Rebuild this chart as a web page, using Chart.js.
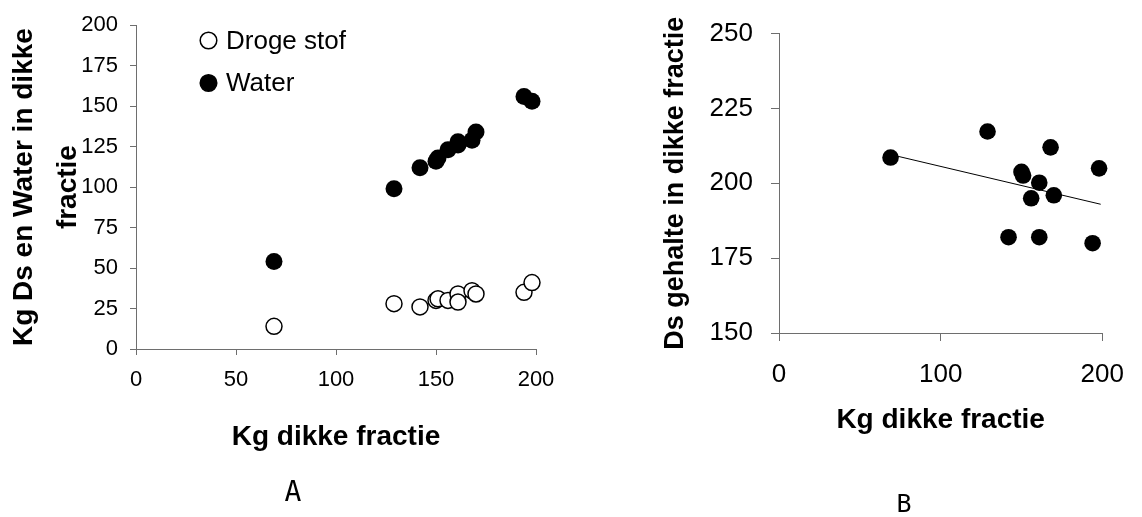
<!DOCTYPE html>
<html>
<head>
<meta charset="utf-8">
<script src="https://cdn.jsdelivr.net/npm/chart.js@4"></script>
<style>
    body { margin: 0; width: 1142px; height: 517px; background: #fff; position: relative; overflow: hidden; }
    canvas { position: absolute; top: 0; }
    .panel { position: absolute; font-family: "DejaVu Sans Mono", monospace; color: #000; transform: translate(-50%, -50%); }
</style>
</head>
<body>
<canvas id="chartA" width="580" height="517" style="left:0"></canvas>
<canvas id="chartB" width="562" height="517" style="left:580px"></canvas>
<div class="panel" style="left:293px; top:491px; font-size:28px;">A</div>
<div class="panel" style="left:904px; top:503px; font-size:25px;">B</div>

<script>
// kg dikke fractie (same batches in both panels)
const dikkeFractie = [69, 129, 142, 150, 151, 156, 161, 161, 168, 170, 194, 198];
const drogeStof = [14, 28, 26, 30, 31, 30, 34, 29, 36, 34, 35, 41];
const water = [54, 99, 112, 116, 118, 123, 128, 126, 129, 134, 156, 153];
const dsGehalte = [208.6, 217.3, 182, 203.8, 202.6, 195, 200.2, 182, 212, 196, 180, 205];
const trendX = [69, 199];
const trendY = [209.6, 193];

const ticksA_x = [0, 50, 100, 150, 200];
const ticksA_y = [0, 25, 50, 75, 100, 125, 150, 175, 200];
const ticksB_x = [0, 100, 200];
const ticksB_y = [150, 175, 200, 225, 250];

const axisGrey = '#6e6e6e';
const sans = '"Liberation Sans", Arial, sans-serif';

Chart.defaults.font.family = sans;
Chart.defaults.color = '#000';

function points(xs, ys) {
    return xs.map((x, i) => ({ x: x, y: ys[i] }));
}

function axis(tickValues, tickSize, tickLen, pad, title, fit) {
    return {
        type: 'linear',
        min: tickValues[0],
        max: tickValues[tickValues.length - 1],
        afterBuildTicks: s => { s.ticks = tickValues.map(v => ({ value: v })); },
        afterFit: fit,
        border: { color: axisGrey, width: 1 },
        grid: { drawOnChartArea: false, drawTicks: true, tickLength: tickLen, color: axisGrey },
        ticks: { font: { size: tickSize }, padding: pad, color: '#000' },
        title: title
    };
}

// legend drawn inside the plot, next to the points it describes
const cornerLegend = {
    id: 'cornerLegend',
    afterDraw(chart) {
        const ctx = chart.ctx;
        chart.data.datasets.forEach((ds, i) => {
            const y = 40.5 + i * 42.5;
            ctx.save();
            ctx.beginPath();
            ctx.arc(208.5, y, 8.3, 0, Math.PI * 2);
            ctx.fillStyle = ds.backgroundColor;
            ctx.fill();
            ctx.lineWidth = ds.borderWidth;
            ctx.strokeStyle = ds.borderColor;
            ctx.stroke();
            ctx.fillStyle = '#000';
            ctx.font = '26px ' + sans;
            ctx.textBaseline = 'middle';
            ctx.fillText(ds.label, 226, y + 1);
            ctx.restore();
        });
    }
};

new Chart(document.getElementById('chartA'), {
    type: 'scatter',
    data: {
        datasets: [
            {
                label: 'Droge stof',
                data: points(dikkeFractie, drogeStof),
                pointRadius: 8,
                borderWidth: 1.5,
                borderColor: '#000',
                backgroundColor: '#fff',
                clip: false
            },
            {
                label: 'Water',
                data: points(dikkeFractie, water),
                pointRadius: 8.5,
                borderWidth: 0,
                borderColor: '#000',
                backgroundColor: '#000',
                clip: false
            }
        ]
    },
    options: {
        responsive: false,
        animation: false,
        layout: { padding: { left: 0, top: 17, right: 44, bottom: 0 } },
        plugins: { legend: { display: false }, tooltip: { enabled: false } },
        scales: {
            x: axis(ticksA_x, 22, 6, 12, {
                display: true, text: 'Kg dikke fractie', color: '#000',
                font: { size: 28, weight: 'bold' }, padding: { top: 0, bottom: 63 }
            }, s => { s.height = 168; }),
            y: axis(ticksA_y, 22, 6, 12, {
                display: true, text: ['Kg Ds en Water in dikke', 'fractie'], color: '#000',
                font: { size: 28, weight: 'bold', lineHeight: 1.57 }, padding: { top: 2, bottom: 0 }
            }, s => { s.width = 136; })
        }
    },
    plugins: [cornerLegend]
});

new Chart(document.getElementById('chartB'), {
    type: 'scatter',
    data: {
        datasets: [
            {
                label: 'Ds gehalte',
                data: points(dikkeFractie, dsGehalte),
                pointRadius: 8.3,
                borderWidth: 0,
                backgroundColor: '#000',
                clip: false,
                order: 1
            },
            {
                label: 'Trend',
                data: points(trendX, trendY),
                showLine: true,
                pointRadius: 0,
                borderWidth: 1,
                borderColor: '#000',
                order: 2
            }
        ]
    },
    options: {
        responsive: false,
        animation: false,
        layout: { padding: { left: 0, top: 31, right: 28, bottom: 0 } },
        plugins: { legend: { display: false }, tooltip: { enabled: false } },
        scales: {
            x: axis(ticksB_x, 26, 8, 18, {
                display: true, text: 'Kg dikke fractie', color: '#000',
                font: { size: 28, weight: 'bold' }, padding: { top: 0, bottom: 80 }
            }, s => { s.height = 184; }),
            y: axis(ticksB_y, 26, 8, 18, {
                display: true, text: 'Ds gehalte in dikke fractie', color: '#000',
                font: { size: 27, weight: 'bold' }, padding: { top: 79, bottom: 0 }
            }, s => { s.width = 199; })
        }
    }
});
</script>
</body>
</html>
